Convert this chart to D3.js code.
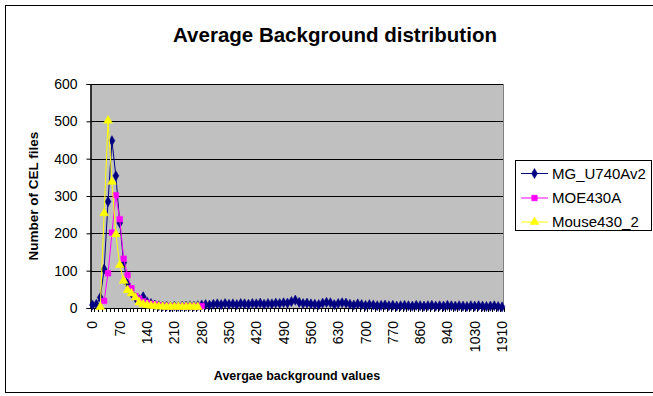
<!DOCTYPE html>
<html>
<head>
<meta charset="utf-8">
<script src="https://cdn.jsdelivr.net/npm/d3@7"></script>
<style>
  html, body { margin: 0; padding: 0; background: #fff; }
  svg { display: block; font-family: Arial, "Liberation Sans", sans-serif; }
</style>
</head>
<body>
<svg id="chart" width="653" height="396"></svg>
<script>
// Category values on the x axis (average background bins)
const categories = [
  0, 10, 20, 30, 40, 50, 60, 70, 80, 90, 100, 110, 120, 130, 140, 150, 160, 170, 180, 190,
  200, 210, 220, 230, 240, 250, 260, 270, 280, 290, 300, 310, 320, 330, 340, 350, 360, 370, 380, 390,
  400, 410, 420, 430, 440, 450, 460, 470, 480, 490, 500, 510, 520, 530, 540, 550, 560, 570, 580, 590,
  600, 610, 620, 630, 640, 650, 660, 670, 680, 690, 700, 710, 720, 730, 740, 750, 760, 770,
  780, 790, 800, 810, 820, 840, 860, 870, 880, 890, 900, 910, 920, 940,
  950, 960, 970, 990, 1000, 1010, 1030, 1050, 1080, 1120, 1200, 1350, 1570, 1910
];

// Number of CEL files per bin, one array per chip type
const mgU740Av2 = [
  8, 10, 28, 104, 285, 448, 354, 228, 121, 64, 40, 28, 22, 30, 16, 12,
  8, 6, 5, 5, 4, 5, 4, 5, 5, 6, 5, 6,
  8, 9, 8, 10, 11, 9, 12, 10, 11, 9, 12, 11, 10, 12, 11, 13, 10, 12, 11, 13, 12, 14, 13,
  17, 21, 15, 12, 13,
  11, 10, 9, 13, 15, 14, 9, 12, 14, 13, 10, 8, 11, 9, 7, 9, 8, 6, 7, 8,
  6, 7, 5, 6, 7, 6, 5, 7, 6, 5, 6, 7, 5, 6, 5, 7, 6, 5, 6, 5, 4, 6, 5, 6, 5, 4, 5, 6, 4, 3
];

const moe430A = [
  null, null, null,
  19, 93, 202, 302, 238, 132, 88, 53, 32, 25, 18, 14, 11, 9, 7, 6, 5, 5, 4, 4, 5, 4, 4, 5, 4, 5
];

const mouse430_2 = [
  null, null,
  3, 254, 502, 338, 198, 115, 73, 48, 39, 28, 15, 10, 8, 6, 5, 4, 4, 3, 4, 3, 4, 3, 3, 4, 3, 3
];

const yTicks = [0, 100, 200, 300, 400, 500, 600];

const seriesList = [
  { name: "MG_U740Av2", values: mgU740Av2, color: "#000080", marker: "diamond" },
  { name: "MOE430A", values: moe430A, color: "#FF00FF", marker: "square" },
  { name: "Mouse430_2", values: mouse430_2, color: "#FFFF00", marker: "triangle" }
];

const svg = d3.select("#chart");

// Outer chart frame
svg.append("rect")
  .attr("x", 5.5).attr("y", 5.5)
  .attr("width", 660).attr("height", 387)
  .attr("fill", "#fff").attr("stroke", "#000").attr("stroke-width", 1);

// Plot area
const plot = { left: 90.5, top: 84, right: 504, bottom: 308 };

const x = d3.scaleBand()
  .domain(categories.map((d, i) => i))
  .range([plot.left, plot.right])
  .padding(0);

const y = d3.scaleLinear()
  .domain([0, 600])
  .range([plot.bottom, plot.top]);

svg.append("rect")
  .attr("x", plot.left).attr("y", plot.top)
  .attr("width", plot.right - plot.left).attr("height", plot.bottom - plot.top)
  .attr("fill", "#C0C0C0");

// Horizontal gridlines
svg.append("g")
  .selectAll("line")
  .data(yTicks.filter(v => v > 0))
  .join("line")
  .attr("x1", plot.left).attr("x2", plot.right)
  .attr("y1", d => Math.round(y(d)) + 0.5).attr("y2", d => Math.round(y(d)) + 0.5)
  .attr("stroke", "#000").attr("stroke-width", 1);

// Plot area right edge
svg.append("line")
  .attr("x1", plot.right - 0.5).attr("x2", plot.right - 0.5)
  .attr("y1", plot.top).attr("y2", plot.bottom)
  .attr("stroke", "#808080");

// Y axis
const yAxis = d3.axisLeft(y).tickValues(yTicks).tickSize(4).tickPadding(9);
const gy = svg.append("g")
  .attr("transform", `translate(${plot.left},0)`)
  .call(yAxis);
gy.select(".domain").attr("stroke", "#000");
gy.selectAll(".tick line").attr("stroke", "#000");
gy.selectAll(".tick text")
  .attr("font-size", 14).attr("font-family", "Arial, 'Liberation Sans', sans-serif")
  .attr("fill", "#000");

// X axis: tick marks between categories, labels every 7th category
const gx = svg.append("g")
  .attr("transform", `translate(0,${plot.bottom})`);
gx.append("line")
  .attr("x1", plot.left).attr("x2", plot.right)
  .attr("y1", 0.5).attr("y2", 0.5)
  .attr("stroke", "#000");
gx.selectAll("line.tick")
  .data(d3.range(categories.length + 1))
  .join("line")
  .attr("class", "tick")
  .attr("x1", i => Math.round(plot.left + i * x.bandwidth()) + 0.5)
  .attr("x2", i => Math.round(plot.left + i * x.bandwidth()) + 0.5)
  .attr("y1", 0).attr("y2", 4)
  .attr("stroke", "#000");
gx.selectAll("text")
  .data(categories.map((c, i) => ({ c, i })).filter(d => d.i % 7 === 0))
  .join("text")
  .attr("transform", d => `translate(${x(d.i) + x.bandwidth() / 2 + 5},13) rotate(-90)`)
  .attr("text-anchor", "end")
  .attr("font-size", 14)
  .attr("fill", "#000")
  .text(d => d.c);

// Y axis left line (drawn on top of plot background)
svg.append("line")
  .attr("x1", plot.left + 0.5).attr("x2", plot.left + 0.5)
  .attr("y1", plot.top).attr("y2", plot.bottom)
  .attr("stroke", "#000");

// Marker shapes
function markerPath(type) {
  if (type === "diamond") return d3.symbol(d3.symbolDiamond, 30)();
  if (type === "square") return d3.symbol(d3.symbolSquare, 32)();
  return d3.symbol(d3.symbolTriangle, 34)();
}

const line = d3.line()
  .defined(d => d.v != null)
  .x(d => x(d.i) + x.bandwidth() / 2)
  .y(d => y(d.v));

seriesList.forEach(s => {
  const pts = s.values.map((v, i) => ({ v, i }));
  const g = svg.append("g");
  g.append("path")
    .datum(pts)
    .attr("d", line)
    .attr("fill", "none")
    .attr("stroke", s.color)
    .attr("stroke-width", 1);
  g.selectAll("path.m")
    .data(pts.filter(d => d.v != null))
    .join("path")
    .attr("class", "m")
    .attr("d", markerPath(s.marker))
    .attr("transform", d => `translate(${x(d.i) + x.bandwidth() / 2},${y(d.v)})`)
    .attr("fill", s.color)
    .attr("stroke", s.color)
    .attr("stroke-width", 0.5);
});

// Titles
svg.append("text")
  .attr("x", 335).attr("y", 42)
  .attr("text-anchor", "middle")
  .attr("font-size", 20.5).attr("font-weight", "bold")
  .text("Average Background distribution");

svg.append("text")
  .attr("transform", `translate(38,${(plot.top + plot.bottom) / 2}) rotate(-90)`)
  .attr("text-anchor", "middle")
  .attr("font-size", 13.5).attr("font-weight", "bold")
  .text("Number of CEL files");

svg.append("text")
  .attr("x", 297).attr("y", 380)
  .attr("text-anchor", "middle")
  .attr("font-size", 12.5).attr("font-weight", "bold")
  .text("Avergae background values");

// Legend
const legend = svg.append("g");
legend.append("rect")
  .attr("x", 515.5).attr("y", 160.5)
  .attr("width", 136).attr("height", 70)
  .attr("fill", "#fff").attr("stroke", "#000");
const rowY = [173.5, 198, 222];
seriesList.forEach((s, k) => {
  const ly = rowY[k];
  legend.append("line")
    .attr("x1", 521).attr("x2", 548)
    .attr("y1", ly).attr("y2", ly)
    .attr("stroke", s.color);
  legend.append("path")
    .attr("d", markerPath(s.marker))
    .attr("transform", `translate(534.5,${ly})`)
    .attr("fill", s.color).attr("stroke", s.color).attr("stroke-width", 0.5);
  legend.append("text")
    .attr("x", 552).attr("y", ly + 5)
    .attr("font-size", 15)
    .text(s.name);
});
</script>
</body>
</html>
